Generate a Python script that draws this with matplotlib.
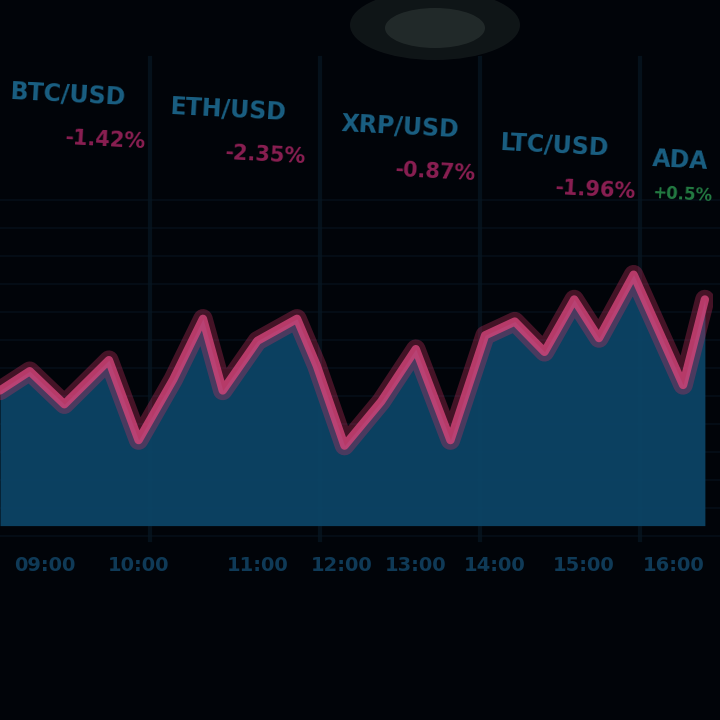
import matplotlib.pyplot as plt
from matplotlib.patches import Ellipse

plt.rcParams['font.family'] = ['DejaVu Sans']

# price series
hours = [0, 30, 65, 110, 140, 175, 205, 225, 260, 300, 320, 348,
         385, 420, 455, 490, 520, 550, 580, 605, 640, 665, 690, 712]
price = [49, 56, 44, 60, 31, 53, 75, 49, 67, 75, 58, 29,
         45, 64, 31, 69, 74, 63, 82, 68, 91, 71, 51, 82]

# ticker header
tickers = ['BTC/USD', 'ETH/USD', 'XRP/USD', 'LTC/USD', 'ADA']
changes = ['-1.42%', '-2.35%', '-0.87%', '-1.96%', '+0.5%']
tick_labels = ['09:00', '10:00', '11:00', '12:00', '13:00', '14:00', '15:00', '16:00']
tick_pos = [45, 140, 260, 345, 420, 500, 590, 680]

bg = '#010409'
fig = plt.figure(figsize=(7.2, 7.2), dpi=100, facecolor=bg)

# background grid layer
back = fig.add_axes([0, 0, 1, 1])
back.set_facecolor(bg)
back.set_xlim(0, 720)
back.set_ylim(720, 0)
for gx in [150, 320, 480, 640]:
    back.axvline(gx, ymin=0.25, ymax=0.92, color='#0b2233', lw=3, alpha=0.45)
for gy in range(200, 540, 28):
    back.axhline(gy, color='#071521', lw=1.2, alpha=0.6)
back.add_patch(Ellipse((435, 25), 170, 70, color='#2c3533', alpha=0.35, lw=0))
back.add_patch(Ellipse((435, 28), 100, 40, color='#4d5854', alpha=0.3, lw=0))
back.axis('off')

# ticker labels sloping slightly downwards
hx = [10, 170, 340, 500, 652]
hy = [95, 110, 127, 145, 160]
for i in range(len(tickers)):
    back.text(hx[i], hy[i], tickers[i], color='#1a5f82', fontsize=17,
              fontweight='bold', va='center', rotation=-3)
    if changes[i].startswith('+'):
        back.text(hx[i], hy[i] + 35, changes[i], color='#237a42', fontsize=12,
                  fontweight='bold', va='center', rotation=-3)
    else:
        back.text(hx[i] + 55, hy[i] + 45, changes[i], color='#8a1f52', fontsize=15,
                  fontweight='bold', va='center', rotation=-3)

# main chart
ax = fig.add_axes([0, 0.27, 0.99, 0.383])
ax.set_facecolor('none')
ax.fill_between(hours, price, 0, color='#0c4466', alpha=0.95, lw=0)
ax.plot(hours, price, color='#c2305e', lw=14, alpha=0.35, solid_capstyle='round')
ax.plot(hours, price, color='#d4457a', lw=6, alpha=0.8, solid_capstyle='round')
ax.set_xlim(0, 720)
ax.set_ylim(0, 100)
ax.set_yticks([])
ax.set_xticks(tick_pos)
ax.set_xticklabels(tick_labels, color='#0f3a57', fontsize=14, fontweight='bold')
ax.tick_params(axis='x', length=0, pad=22)
for s in ax.spines.values():
    s.set_visible(False)

fig.savefig('out.png', dpi=100, facecolor=bg)
